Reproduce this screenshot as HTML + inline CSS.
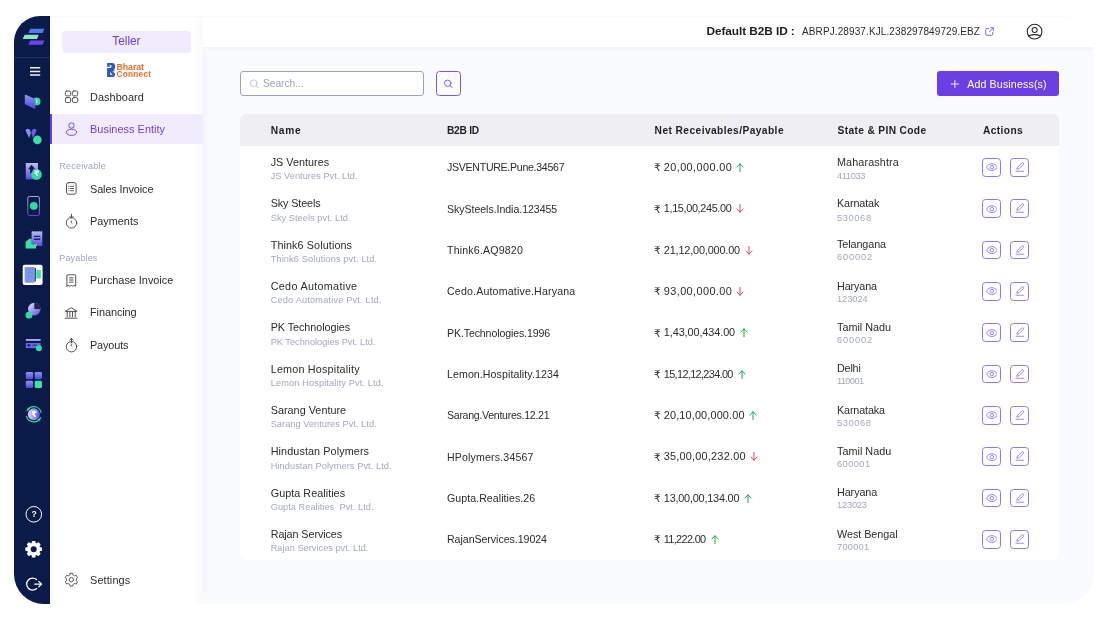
<!DOCTYPE html>
<html lang="en"><head><meta charset="utf-8"><title>Business Entity</title>
<style>
*{box-sizing:border-box;margin:0;padding:0}
html,body{width:1112px;height:620px;background:#fff;overflow:hidden}
body{font-family:"Liberation Sans", sans-serif;position:relative;-webkit-font-smoothing:antialiased}
.abs,.t,svg{position:absolute}
.t{white-space:pre;line-height:1;display:block}
.rail{left:14px;top:16px;width:36px;height:587.6px;background:#0a1a49;border-radius:26px 0 0 30px}
.raildiv{left:14px;top:57px;width:36px;height:1px;background:#22305f}
.side{left:50px;top:16px;width:153px;height:587.6px;background:linear-gradient(90deg,#fff 0,#fff 143px,#fafafb 153px)}
.top{left:203px;top:16px;width:891px;height:30.5px;background:#fff}
.main{left:203px;top:46.7px;width:891px;height:556.9px;background:#fafbfe;border-radius:0 0 30px 0}
.mainsh{left:203px;top:46.7px;width:891px;height:5px;background:linear-gradient(180deg,#f2f2f8,#fafbfe)}
.mainsl{left:203px;top:46.7px;width:7px;height:545px;background:linear-gradient(90deg,#f3f3f9,#fafbfe)}
.pill{left:62px;top:31px;width:129px;height:22px;background:#f0ecfd;border-radius:4px}
.topline{left:50px;top:16px;width:1018px;height:1px;background:#f9f9fa}
.active{left:50px;top:113.5px;width:153px;height:30.6px;background:#f0ecfd}
.activebar{left:50px;top:113.5px;width:2px;height:30.6px;background:#6b3fe4}
.search{left:240.2px;top:71.4px;width:183.6px;height:24.2px;border:1px solid #9da1be;border-radius:3px;background:#fff}
.sbtn{left:436px;top:71.2px;width:24.6px;height:24.6px;border:1px solid #7b54ea;border-radius:3.5px;background:#fafbfe}
.add{left:937.2px;top:71.4px;width:121.8px;height:24.4px;background:#6b3fe4;border-radius:3px}
.thead{left:240.2px;top:114.3px;width:818.8px;height:32px;background:#eeeef3;border-radius:6px 6px 0 0}
.tbody{left:240.2px;top:146.3px;width:818.8px;height:413.6px;background:#fff;border-radius:0 0 6px 6px}
.rs{font-family:"DejaVu Sans",sans-serif}
.ab{width:19px;height:18.8px;border:1px solid #9276ee;border-radius:3.5px;background:#fff}
</style></head>
<body>
<aside><div class="abs rail"></div><div class="abs raildiv"></div></aside>
<nav><div class="abs side"></div><div class="abs pill"></div><div class="abs active"></div><div class="abs activebar"></div>
<span class="t" style="left:112.3px;top:36.3px;font-size:11.9px;color:#6b3fe4;letter-spacing:-0.04px">Teller</span>
<span class="t" style="left:116.5px;top:62.5px;font-size:8.8px;color:#ee6a2c;font-weight:700;letter-spacing:-0.07px">Bharat</span>
<span class="t" style="left:116.5px;top:71.0px;font-size:8.2px;color:#ee6a2c;font-weight:700;letter-spacing:0.29px">Connect</span>
<span class="t" style="left:90.0px;top:91.7px;font-size:10.9px;color:#2b2b30;letter-spacing:0.06px">Dashboard</span>
<span class="t" style="left:90.0px;top:123.7px;font-size:10.9px;color:#6b3fe4;letter-spacing:0.04px">Business Entity</span>
<span class="t" style="left:59.3px;top:161.8px;font-size:9.0px;color:#9fa3c8;letter-spacing:0.21px">Receivable</span>
<span class="t" style="left:90.0px;top:183.7px;font-size:10.9px;color:#2b2b30;letter-spacing:-0.11px">Sales Invoice</span>
<span class="t" style="left:90.0px;top:215.7px;font-size:10.9px;color:#2b2b30;letter-spacing:-0.01px">Payments</span>
<span class="t" style="left:59.3px;top:253.6px;font-size:9.0px;color:#9fa3c8;letter-spacing:0.15px">Payables</span>
<span class="t" style="left:90.0px;top:275.4px;font-size:10.9px;color:#2b2b30;letter-spacing:-0.02px">Purchase Invoice</span>
<span class="t" style="left:90.0px;top:307.4px;font-size:10.9px;color:#2b2b30;letter-spacing:-0.07px">Financing</span>
<span class="t" style="left:90.0px;top:339.8px;font-size:10.9px;color:#2b2b30;letter-spacing:-0.14px">Payouts</span>
<span class="t" style="left:90.0px;top:574.5px;font-size:10.9px;color:#2b2b30;letter-spacing:0.12px">Settings</span>
</nav>
<header><div class="abs top"></div><div class="abs topline"></div>
<span class="t" style="left:706.5px;top:25.8px;font-size:11.8px;color:#1d1d22;font-weight:700;letter-spacing:-0.06px">Default B2B ID :</span>
<span class="t" style="left:802.0px;top:26.6px;font-size:10.0px;color:#2b2b30;letter-spacing:0.11px">ABRPJ.28937.KJL.238297849729.EBZ</span>
</header>
<main><div class="abs main"></div><div class="abs mainsl"></div><div class="abs mainsh"></div>
<section><div class="abs search"></div><div class="abs sbtn"></div><div class="abs add"></div>
<span class="t" style="left:263.1px;top:78.8px;font-size:10.2px;color:#9a9ebe;letter-spacing:-0.05px">Search...</span>
<span class="t" style="left:967.2px;top:79.0px;font-size:10.6px;color:#ffffff;letter-spacing:0.16px">Add Business(s)</span>
</section>
<section><div class="abs thead"></div><div class="abs tbody"></div>
<div><span class="t" style="left:270.7px;top:125.8px;font-size:10.2px;color:#1d1d22;font-weight:700;letter-spacing:0.75px">Name</span><span class="t" style="left:446.9px;top:125.8px;font-size:10.2px;color:#1d1d22;font-weight:700;letter-spacing:-0.24px">B2B ID</span><span class="t" style="left:654.6px;top:125.8px;font-size:10.2px;color:#1d1d22;font-weight:700;letter-spacing:0.43px">Net Receivables/Payable</span><span class="t" style="left:837.5px;top:125.8px;font-size:10.2px;color:#1d1d22;font-weight:700;letter-spacing:0.36px">State &amp; PIN Code</span><span class="t" style="left:983.0px;top:125.8px;font-size:10.2px;color:#1d1d22;font-weight:700;letter-spacing:0.39px">Actions</span></div>
<div><span class="t" style="left:270.7px;top:156.8px;font-size:10.8px;color:#2b2b30;letter-spacing:0.02px">JS Ventures</span><span class="t" style="left:270.7px;top:172.4px;font-size:9.2px;color:#a3a6c2;letter-spacing:0.05px">JS Ventures Pvt. Ltd.</span><span class="t" style="left:447.0px;top:162.2px;font-size:10.6px;color:#2b2b30;letter-spacing:-0.29px">JSVENTURE.Pune.34567</span><span class="t rs" style="left:653.9px;top:162.2px;font-size:10.4px;color:#2b2b30">₹</span><span class="t" style="left:663.8px;top:162.0px;font-size:10.9px;color:#2b2b30;letter-spacing:0.40px">20,00,000.00</span><span class="t" style="left:837.0px;top:156.8px;font-size:10.8px;color:#2b2b30;letter-spacing:0.12px">Maharashtra</span><span class="t" style="left:837.0px;top:172.1px;font-size:9.3px;color:#a3a6c2;letter-spacing:-0.39px">411033</span><svg style="left:736.2px;top:162.9px" width="8" height="9" viewBox="0 0 8 9"><path d="M4 8.6V0.8M0.9 4L4 0.8L7.1 4" fill="none" stroke="#14a240" stroke-width="0.95" stroke-linecap="round" stroke-linejoin="round"/></svg><div class="abs ab" style="left:982px;top:157.9px"></div><svg style="left:985.6px;top:163.2px" width="11.8" height="8.2" viewBox="0 0 24 16"><path d="M1 8C4 3 8 1 12 1s8 2 11 7c-3 5-7 7-11 7S4 13 1 8z" fill="none" stroke="#7f5cea" stroke-width="1.55"/><circle cx="12" cy="8" r="3.6" fill="none" stroke="#7f5cea" stroke-width="1.55"/></svg><div class="abs ab" style="left:1010px;top:157.9px"></div><svg style="left:1014.6px;top:162.1px" width="10" height="10" viewBox="0 0 20 20"><path d="M3.5 14.5L5 10.5L13.5 2a2 2 0 0 1 3 3L8 13.5z" fill="none" stroke="#7f5cea" stroke-width="1.5" stroke-linejoin="round"/><path d="M2 18.5H17" stroke="#7f5cea" stroke-width="1.5" stroke-linecap="round"/></svg></div>
<div><span class="t" style="left:270.7px;top:198.2px;font-size:10.8px;color:#2b2b30;letter-spacing:-0.11px">Sky Steels</span><span class="t" style="left:270.7px;top:213.7px;font-size:9.2px;color:#a3a6c2;letter-spacing:0.06px">Sky Steels pvt. Ltd.</span><span class="t" style="left:447.0px;top:203.5px;font-size:10.6px;color:#2b2b30;letter-spacing:-0.05px">SkySteels.India.123455</span><span class="t rs" style="left:653.9px;top:203.6px;font-size:10.4px;color:#2b2b30">₹</span><span class="t" style="left:663.8px;top:203.3px;font-size:10.9px;color:#2b2b30;letter-spacing:-0.36px">1,15,00,245.00</span><span class="t" style="left:837.0px;top:198.1px;font-size:10.8px;color:#2b2b30;letter-spacing:-0.12px">Karnatak</span><span class="t" style="left:837.0px;top:213.5px;font-size:9.3px;color:#a3a6c2;letter-spacing:0.61px">530068</span><svg style="left:736.2px;top:204.2px" width="8" height="9" viewBox="0 0 8 9"><path d="M4 0.4V8.2M0.9 5L4 8.2L7.1 5" fill="none" stroke="#e03c5e" stroke-width="0.95" stroke-linecap="round" stroke-linejoin="round"/></svg><div class="abs ab" style="left:982px;top:199.2px"></div><svg style="left:985.6px;top:204.5px" width="11.8" height="8.2" viewBox="0 0 24 16"><path d="M1 8C4 3 8 1 12 1s8 2 11 7c-3 5-7 7-11 7S4 13 1 8z" fill="none" stroke="#7f5cea" stroke-width="1.55"/><circle cx="12" cy="8" r="3.6" fill="none" stroke="#7f5cea" stroke-width="1.55"/></svg><div class="abs ab" style="left:1010px;top:199.2px"></div><svg style="left:1014.6px;top:203.4px" width="10" height="10" viewBox="0 0 20 20"><path d="M3.5 14.5L5 10.5L13.5 2a2 2 0 0 1 3 3L8 13.5z" fill="none" stroke="#7f5cea" stroke-width="1.5" stroke-linejoin="round"/><path d="M2 18.5H17" stroke="#7f5cea" stroke-width="1.5" stroke-linecap="round"/></svg></div>
<div><span class="t" style="left:270.7px;top:239.5px;font-size:10.8px;color:#2b2b30;letter-spacing:0.10px">Think6 Solutions</span><span class="t" style="left:270.7px;top:255.0px;font-size:9.2px;color:#a3a6c2;letter-spacing:0.13px">Think6 Solutions pvt. Ltd.</span><span class="t" style="left:447.0px;top:244.8px;font-size:10.6px;color:#2b2b30;letter-spacing:0.18px">Think6.AQ9820</span><span class="t rs" style="left:653.9px;top:244.9px;font-size:10.4px;color:#2b2b30">₹</span><span class="t" style="left:663.8px;top:244.7px;font-size:10.9px;color:#2b2b30;letter-spacing:-0.17px">21,12,00,000.00</span><span class="t" style="left:837.0px;top:239.4px;font-size:10.8px;color:#2b2b30;letter-spacing:-0.09px">Telangana</span><span class="t" style="left:837.0px;top:253.4px;font-size:9.3px;color:#a3a6c2;letter-spacing:0.81px">600002</span><svg style="left:744.6px;top:245.5px" width="8" height="9" viewBox="0 0 8 9"><path d="M4 0.4V8.2M0.9 5L4 8.2L7.1 5" fill="none" stroke="#e03c5e" stroke-width="0.95" stroke-linecap="round" stroke-linejoin="round"/></svg><div class="abs ab" style="left:982px;top:240.5px"></div><svg style="left:985.6px;top:245.8px" width="11.8" height="8.2" viewBox="0 0 24 16"><path d="M1 8C4 3 8 1 12 1s8 2 11 7c-3 5-7 7-11 7S4 13 1 8z" fill="none" stroke="#7f5cea" stroke-width="1.55"/><circle cx="12" cy="8" r="3.6" fill="none" stroke="#7f5cea" stroke-width="1.55"/></svg><div class="abs ab" style="left:1010px;top:240.5px"></div><svg style="left:1014.6px;top:244.7px" width="10" height="10" viewBox="0 0 20 20"><path d="M3.5 14.5L5 10.5L13.5 2a2 2 0 0 1 3 3L8 13.5z" fill="none" stroke="#7f5cea" stroke-width="1.5" stroke-linejoin="round"/><path d="M2 18.5H17" stroke="#7f5cea" stroke-width="1.5" stroke-linecap="round"/></svg></div>
<div><span class="t" style="left:270.7px;top:280.8px;font-size:10.8px;color:#2b2b30;letter-spacing:0.30px">Cedo Automative</span><span class="t" style="left:270.7px;top:296.4px;font-size:9.2px;color:#a3a6c2;letter-spacing:0.19px">Cedo Automative Pvt. Ltd.</span><span class="t" style="left:447.0px;top:286.2px;font-size:10.6px;color:#2b2b30;letter-spacing:0.18px">Cedo.Automative.Haryana</span><span class="t rs" style="left:653.9px;top:286.2px;font-size:10.4px;color:#2b2b30">₹</span><span class="t" style="left:663.8px;top:286.0px;font-size:10.9px;color:#2b2b30;letter-spacing:0.40px">93,00,000.00</span><span class="t" style="left:837.0px;top:280.8px;font-size:10.8px;color:#2b2b30;letter-spacing:-0.12px">Haryana</span><span class="t" style="left:837.0px;top:294.7px;font-size:9.3px;color:#a3a6c2;letter-spacing:-0.07px">123024</span><svg style="left:736.2px;top:286.9px" width="8" height="9" viewBox="0 0 8 9"><path d="M4 0.4V8.2M0.9 5L4 8.2L7.1 5" fill="none" stroke="#e03c5e" stroke-width="0.95" stroke-linecap="round" stroke-linejoin="round"/></svg><div class="abs ab" style="left:982px;top:281.9px"></div><svg style="left:985.6px;top:287.2px" width="11.8" height="8.2" viewBox="0 0 24 16"><path d="M1 8C4 3 8 1 12 1s8 2 11 7c-3 5-7 7-11 7S4 13 1 8z" fill="none" stroke="#7f5cea" stroke-width="1.55"/><circle cx="12" cy="8" r="3.6" fill="none" stroke="#7f5cea" stroke-width="1.55"/></svg><div class="abs ab" style="left:1010px;top:281.9px"></div><svg style="left:1014.6px;top:286.1px" width="10" height="10" viewBox="0 0 20 20"><path d="M3.5 14.5L5 10.5L13.5 2a2 2 0 0 1 3 3L8 13.5z" fill="none" stroke="#7f5cea" stroke-width="1.5" stroke-linejoin="round"/><path d="M2 18.5H17" stroke="#7f5cea" stroke-width="1.5" stroke-linecap="round"/></svg></div>
<div><span class="t" style="left:270.7px;top:322.2px;font-size:10.8px;color:#2b2b30;letter-spacing:-0.06px">PK Technologies</span><span class="t" style="left:270.7px;top:337.7px;font-size:9.2px;color:#a3a6c2;letter-spacing:0.01px">PK Technologies Pvt. Ltd.</span><span class="t" style="left:447.0px;top:327.5px;font-size:10.6px;color:#2b2b30;letter-spacing:-0.12px">PK.Technologies.1996</span><span class="t rs" style="left:653.9px;top:327.6px;font-size:10.4px;color:#2b2b30">₹</span><span class="t" style="left:663.8px;top:327.3px;font-size:10.9px;color:#2b2b30;letter-spacing:-0.10px">1,43,00,434.00</span><span class="t" style="left:837.0px;top:322.1px;font-size:10.8px;color:#2b2b30;letter-spacing:0.01px">Tamil Nadu</span><span class="t" style="left:837.0px;top:336.0px;font-size:9.3px;color:#a3a6c2;letter-spacing:0.81px">600002</span><svg style="left:739.6px;top:328.2px" width="8" height="9" viewBox="0 0 8 9"><path d="M4 8.6V0.8M0.9 4L4 0.8L7.1 4" fill="none" stroke="#14a240" stroke-width="0.95" stroke-linecap="round" stroke-linejoin="round"/></svg><div class="abs ab" style="left:982px;top:323.2px"></div><svg style="left:985.6px;top:328.5px" width="11.8" height="8.2" viewBox="0 0 24 16"><path d="M1 8C4 3 8 1 12 1s8 2 11 7c-3 5-7 7-11 7S4 13 1 8z" fill="none" stroke="#7f5cea" stroke-width="1.55"/><circle cx="12" cy="8" r="3.6" fill="none" stroke="#7f5cea" stroke-width="1.55"/></svg><div class="abs ab" style="left:1010px;top:323.2px"></div><svg style="left:1014.6px;top:327.4px" width="10" height="10" viewBox="0 0 20 20"><path d="M3.5 14.5L5 10.5L13.5 2a2 2 0 0 1 3 3L8 13.5z" fill="none" stroke="#7f5cea" stroke-width="1.5" stroke-linejoin="round"/><path d="M2 18.5H17" stroke="#7f5cea" stroke-width="1.5" stroke-linecap="round"/></svg></div>
<div><span class="t" style="left:270.7px;top:363.5px;font-size:10.8px;color:#2b2b30;letter-spacing:0.19px">Lemon Hospitality</span><span class="t" style="left:270.7px;top:379.0px;font-size:9.2px;color:#a3a6c2;letter-spacing:0.14px">Lemon Hospitality Pvt. Ltd.</span><span class="t" style="left:447.0px;top:368.8px;font-size:10.6px;color:#2b2b30;letter-spacing:0.09px">Lemon.Hospitality.1234</span><span class="t rs" style="left:653.9px;top:368.9px;font-size:10.4px;color:#2b2b30">₹</span><span class="t" style="left:663.8px;top:368.6px;font-size:10.9px;color:#2b2b30;letter-spacing:-0.65px">15,12,12,234.00</span><span class="t" style="left:837.0px;top:363.4px;font-size:10.8px;color:#2b2b30;letter-spacing:-0.20px">Delhi</span><span class="t" style="left:837.0px;top:377.4px;font-size:9.3px;color:#a3a6c2;letter-spacing:-0.65px">110001</span><svg style="left:737.9px;top:369.5px" width="8" height="9" viewBox="0 0 8 9"><path d="M4 8.6V0.8M0.9 4L4 0.8L7.1 4" fill="none" stroke="#14a240" stroke-width="0.95" stroke-linecap="round" stroke-linejoin="round"/></svg><div class="abs ab" style="left:982px;top:364.5px"></div><svg style="left:985.6px;top:369.8px" width="11.8" height="8.2" viewBox="0 0 24 16"><path d="M1 8C4 3 8 1 12 1s8 2 11 7c-3 5-7 7-11 7S4 13 1 8z" fill="none" stroke="#7f5cea" stroke-width="1.55"/><circle cx="12" cy="8" r="3.6" fill="none" stroke="#7f5cea" stroke-width="1.55"/></svg><div class="abs ab" style="left:1010px;top:364.5px"></div><svg style="left:1014.6px;top:368.7px" width="10" height="10" viewBox="0 0 20 20"><path d="M3.5 14.5L5 10.5L13.5 2a2 2 0 0 1 3 3L8 13.5z" fill="none" stroke="#7f5cea" stroke-width="1.5" stroke-linejoin="round"/><path d="M2 18.5H17" stroke="#7f5cea" stroke-width="1.5" stroke-linecap="round"/></svg></div>
<div><span class="t" style="left:270.7px;top:404.8px;font-size:10.8px;color:#2b2b30;letter-spacing:0.03px">Sarang Venture</span><span class="t" style="left:270.7px;top:420.4px;font-size:9.2px;color:#a3a6c2;letter-spacing:0.05px">Sarang Ventures Pvt. Ltd.</span><span class="t" style="left:447.0px;top:410.2px;font-size:10.6px;color:#2b2b30;letter-spacing:-0.29px">Sarang.Ventures.12.21</span><span class="t rs" style="left:653.9px;top:410.2px;font-size:10.4px;color:#2b2b30">₹</span><span class="t" style="left:663.8px;top:410.0px;font-size:10.9px;color:#2b2b30;letter-spacing:0.14px">20,10,00,000.00</span><span class="t" style="left:837.0px;top:404.8px;font-size:10.8px;color:#2b2b30;letter-spacing:-0.15px">Karnataka</span><span class="t" style="left:837.0px;top:418.7px;font-size:9.3px;color:#a3a6c2;letter-spacing:0.59px">530068</span><svg style="left:748.9px;top:410.8px" width="8" height="9" viewBox="0 0 8 9"><path d="M4 8.6V0.8M0.9 4L4 0.8L7.1 4" fill="none" stroke="#14a240" stroke-width="0.95" stroke-linecap="round" stroke-linejoin="round"/></svg><div class="abs ab" style="left:982px;top:405.8px"></div><svg style="left:985.6px;top:411.1px" width="11.8" height="8.2" viewBox="0 0 24 16"><path d="M1 8C4 3 8 1 12 1s8 2 11 7c-3 5-7 7-11 7S4 13 1 8z" fill="none" stroke="#7f5cea" stroke-width="1.55"/><circle cx="12" cy="8" r="3.6" fill="none" stroke="#7f5cea" stroke-width="1.55"/></svg><div class="abs ab" style="left:1010px;top:405.8px"></div><svg style="left:1014.6px;top:410.0px" width="10" height="10" viewBox="0 0 20 20"><path d="M3.5 14.5L5 10.5L13.5 2a2 2 0 0 1 3 3L8 13.5z" fill="none" stroke="#7f5cea" stroke-width="1.5" stroke-linejoin="round"/><path d="M2 18.5H17" stroke="#7f5cea" stroke-width="1.5" stroke-linecap="round"/></svg></div>
<div><span class="t" style="left:270.7px;top:446.1px;font-size:10.8px;color:#2b2b30;letter-spacing:0.10px">Hindustan Polymers</span><span class="t" style="left:270.7px;top:461.7px;font-size:9.2px;color:#a3a6c2;letter-spacing:0.09px">Hindustan Polymers Pvt. Ltd.</span><span class="t" style="left:447.0px;top:451.5px;font-size:10.6px;color:#2b2b30;letter-spacing:0.16px">HPolymers.34567</span><span class="t rs" style="left:653.9px;top:451.5px;font-size:10.4px;color:#2b2b30">₹</span><span class="t" style="left:663.8px;top:451.3px;font-size:10.9px;color:#2b2b30;letter-spacing:0.21px">35,00,00,232.00</span><span class="t" style="left:837.0px;top:446.1px;font-size:10.8px;color:#2b2b30;letter-spacing:0.02px">Tamil Nadu</span><span class="t" style="left:837.0px;top:460.0px;font-size:9.3px;color:#a3a6c2;letter-spacing:0.41px">600001</span><svg style="left:749.9px;top:452.2px" width="8" height="9" viewBox="0 0 8 9"><path d="M4 0.4V8.2M0.9 5L4 8.2L7.1 5" fill="none" stroke="#e03c5e" stroke-width="0.95" stroke-linecap="round" stroke-linejoin="round"/></svg><div class="abs ab" style="left:982px;top:447.2px"></div><svg style="left:985.6px;top:452.5px" width="11.8" height="8.2" viewBox="0 0 24 16"><path d="M1 8C4 3 8 1 12 1s8 2 11 7c-3 5-7 7-11 7S4 13 1 8z" fill="none" stroke="#7f5cea" stroke-width="1.55"/><circle cx="12" cy="8" r="3.6" fill="none" stroke="#7f5cea" stroke-width="1.55"/></svg><div class="abs ab" style="left:1010px;top:447.2px"></div><svg style="left:1014.6px;top:451.4px" width="10" height="10" viewBox="0 0 20 20"><path d="M3.5 14.5L5 10.5L13.5 2a2 2 0 0 1 3 3L8 13.5z" fill="none" stroke="#7f5cea" stroke-width="1.5" stroke-linejoin="round"/><path d="M2 18.5H17" stroke="#7f5cea" stroke-width="1.5" stroke-linecap="round"/></svg></div>
<div><span class="t" style="left:270.7px;top:487.5px;font-size:10.8px;color:#2b2b30;letter-spacing:0.04px">Gupta Realities</span><span class="t" style="left:270.7px;top:503.0px;font-size:9.2px;color:#a3a6c2;letter-spacing:0.05px">Gupta Realities  Pvt. Ltd.</span><span class="t" style="left:447.0px;top:492.8px;font-size:10.6px;color:#2b2b30;letter-spacing:0.06px">Gupta.Realities.26</span><span class="t rs" style="left:653.9px;top:492.9px;font-size:10.4px;color:#2b2b30">₹</span><span class="t" style="left:663.8px;top:492.6px;font-size:10.9px;color:#2b2b30;letter-spacing:-0.22px">13,00,00,134.00</span><span class="t" style="left:837.0px;top:487.4px;font-size:10.8px;color:#2b2b30;letter-spacing:-0.09px">Haryana</span><span class="t" style="left:837.0px;top:501.4px;font-size:9.3px;color:#a3a6c2;letter-spacing:-0.21px">123023</span><svg style="left:743.9px;top:493.5px" width="8" height="9" viewBox="0 0 8 9"><path d="M4 8.6V0.8M0.9 4L4 0.8L7.1 4" fill="none" stroke="#14a240" stroke-width="0.95" stroke-linecap="round" stroke-linejoin="round"/></svg><div class="abs ab" style="left:982px;top:488.5px"></div><svg style="left:985.6px;top:493.8px" width="11.8" height="8.2" viewBox="0 0 24 16"><path d="M1 8C4 3 8 1 12 1s8 2 11 7c-3 5-7 7-11 7S4 13 1 8z" fill="none" stroke="#7f5cea" stroke-width="1.55"/><circle cx="12" cy="8" r="3.6" fill="none" stroke="#7f5cea" stroke-width="1.55"/></svg><div class="abs ab" style="left:1010px;top:488.5px"></div><svg style="left:1014.6px;top:492.7px" width="10" height="10" viewBox="0 0 20 20"><path d="M3.5 14.5L5 10.5L13.5 2a2 2 0 0 1 3 3L8 13.5z" fill="none" stroke="#7f5cea" stroke-width="1.5" stroke-linejoin="round"/><path d="M2 18.5H17" stroke="#7f5cea" stroke-width="1.5" stroke-linecap="round"/></svg></div>
<div><span class="t" style="left:270.7px;top:528.8px;font-size:10.8px;color:#2b2b30;letter-spacing:-0.09px">Rajan Services</span><span class="t" style="left:270.7px;top:544.3px;font-size:9.2px;color:#a3a6c2;letter-spacing:0.03px">Rajan Services pvt. Ltd.</span><span class="t" style="left:447.0px;top:534.2px;font-size:10.6px;color:#2b2b30;letter-spacing:-0.04px">RajanServices.19024</span><span class="t rs" style="left:653.9px;top:534.2px;font-size:10.4px;color:#2b2b30">₹</span><span class="t" style="left:663.8px;top:534.0px;font-size:10.9px;color:#2b2b30;letter-spacing:-0.67px">11,222.00</span><span class="t" style="left:837.0px;top:528.8px;font-size:10.8px;color:#2b2b30;letter-spacing:-0.04px">West Bengal</span><span class="t" style="left:837.0px;top:542.7px;font-size:9.3px;color:#a3a6c2;letter-spacing:0.21px">700001</span><svg style="left:710.5px;top:534.8px" width="8" height="9" viewBox="0 0 8 9"><path d="M4 8.6V0.8M0.9 4L4 0.8L7.1 4" fill="none" stroke="#14a240" stroke-width="0.95" stroke-linecap="round" stroke-linejoin="round"/></svg><div class="abs ab" style="left:982px;top:529.8px"></div><svg style="left:985.6px;top:535.1px" width="11.8" height="8.2" viewBox="0 0 24 16"><path d="M1 8C4 3 8 1 12 1s8 2 11 7c-3 5-7 7-11 7S4 13 1 8z" fill="none" stroke="#7f5cea" stroke-width="1.55"/><circle cx="12" cy="8" r="3.6" fill="none" stroke="#7f5cea" stroke-width="1.55"/></svg><div class="abs ab" style="left:1010px;top:529.8px"></div><svg style="left:1014.6px;top:534.0px" width="10" height="10" viewBox="0 0 20 20"><path d="M3.5 14.5L5 10.5L13.5 2a2 2 0 0 1 3 3L8 13.5z" fill="none" stroke="#7f5cea" stroke-width="1.5" stroke-linejoin="round"/><path d="M2 18.5H17" stroke="#7f5cea" stroke-width="1.5" stroke-linecap="round"/></svg></div>
</section></main>
<svg class="abs" style="left:0;top:0" width="1112" height="620" viewBox="0 0 1112 620">
<defs>
<linearGradient id="gp" x1="0" y1="0" x2="0" y2="1"><stop offset="0" stop-color="#8a97f2"/><stop offset="1" stop-color="#5545da"/></linearGradient>
<linearGradient id="gl" x1="0" y1="0" x2="0" y2="1"><stop offset="0" stop-color="#bdbdf1"/><stop offset="1" stop-color="#5a4be0"/></linearGradient>
<linearGradient id="gd" x1="0" y1="0" x2="1" y2="1"><stop offset="0" stop-color="#e4e4fa"/><stop offset="1" stop-color="#5a4be0"/></linearGradient>
<linearGradient id="gph" x1="0" y1="0" x2="0" y2="1"><stop offset="0" stop-color="#b3abd6"/><stop offset="1" stop-color="#6b3fe4"/></linearGradient>
<linearGradient id="gh" x1="0" y1="0" x2="1" y2="0"><stop offset="0" stop-color="#dcdcf8"/><stop offset="1" stop-color="#5a4be0"/></linearGradient>
</defs>
<!-- brand mark -->
<path d="M30.2 28.8H44.4L42.6 32.9H28.4z" fill="#4f7be6"/>
<path d="M24.6 34.8H38.8L37 38.9H22.8z" fill="#8ee6c6"/>
<path d="M30.2 40.6H44.4L42.6 44.7H28.4z" fill="#6e42e6"/>
<!-- hamburger -->
<path d="M30 67.8H40.2M30 71.4H40.2M30 75H40.2" stroke="#f2f2f6" stroke-width="1.5"/>
<!-- wallet -->
<circle cx="36.6" cy="101.4" r="3.9" fill="#2fdca2"/><path d="M36.6 99.6V103.2" stroke="#a5f3dc" stroke-width="1.1"/>
<path d="M24.8 95.4Q24.8 94.4 25.8 94.8L34.6 98.8Q35.4 99.2 35.4 100.2V108.2Q35.4 109.2 34.4 108.8L25.6 104.6Q24.8 104.2 24.8 103.4z" fill="url(#gp)"/>
<!-- w mark -->
<path d="M25.6 130.6Q25.8 128.6 27.8 128.7Q29.6 128.8 30.2 130.4L31.8 135.4L30.8 137.9Q29.2 138.2 28.6 136.9z" fill="#8492f0"/>
<path d="M36.6 130.6Q36.4 128.6 34.4 128.7Q32.6 128.8 32 130.4L30.4 135.4L31.4 137.9Q33 138.2 33.6 136.9z" fill="#6a5de4"/>
<path d="M31.1 132.2L33.1 138H29.1z" fill="#18234c"/>
<circle cx="37.4" cy="139.9" r="4.3" fill="#2fdca2"/>
<circle cx="37.4" cy="139.9" r="2.4" fill="none" stroke="#8af0cf" stroke-width="0.7" stroke-dasharray="1 0.8"/>
<!-- upload rupee -->
<rect x="25.8" y="163" width="12.2" height="16.4" fill="url(#gl)"/>
<path d="M31.6 164.8L35.2 169.2H33V173.4H30.2V169.2H28z" fill="#0f1c44"/>
<circle cx="36.5" cy="174.4" r="5.3" fill="#2fdca2"/>
<!-- phone -->
<rect x="27.8" y="196.5" width="11.6" height="19" rx="1.6" fill="none" stroke="url(#gph)" stroke-width="1"/>
<circle cx="33.8" cy="205.8" r="3.9" fill="#2fdca2"/>
<!-- receipt + hand -->
<path d="M25.6 241.8L29.4 238.8H31.8V243.8L33.2 244.6L38.2 242.2Q39 243.4 38.2 244.6L36 246.4V248.6H25.6z" fill="#3ee0a2"/>
<path d="M31.6 231.8L32.6 231 33.7 231.8 34.8 231 35.9 231.8 37 231 38.1 231.8 39.2 231 40.3 231.8 41.4 231 42.3 231.8V246H37.4L36.2 243.4 31.6 244.4z" fill="url(#gl)"/>
<path d="M33.8 236.4H40.2M33.8 239.3H40.2" stroke="#1d2a5c" stroke-width="1.4"/>
<!-- active tile -->
<rect x="22.7" y="264.8" width="19.9" height="20.3" rx="2" fill="#ffffff"/>
<rect x="24.6" y="266.9" width="10.4" height="15.8" rx="1.4" fill="#8097e8"/>
<path d="M27 272.7H32M27 276.4H32" stroke="#6d83da" stroke-width="0.7"/>
<path d="M35.4 268V281.4" stroke="#14204a" stroke-width="0.9"/>
<rect x="36.3" y="270.1" width="4.6" height="8.4" fill="#3ee0a2"/>
<!-- pie -->
<circle cx="34.3" cy="309.1" r="6.3" fill="url(#gd)"/>
<path d="M34.3 309.1V302.8A6.3 6.3 0 0 1 40.6 309.1z" fill="#1b2745"/>
<circle cx="29" cy="315.2" r="3.4" fill="#2fdca2"/>
<!-- card -->
<rect x="25.8" y="339" width="14.8" height="1.9" fill="#a9a9ea"/>
<rect x="25.8" y="343" width="14.8" height="5.1" fill="#6a67e6"/>
<ellipse cx="28.9" cy="345.3" rx="1.7" ry="1.1" fill="#141f4a"/>
<rect x="32.6" y="344.6" width="4.4" height="1.5" fill="#3a3aa6"/>
<circle cx="38.9" cy="348.2" r="3" fill="#2fdca2"/>
<!-- grid -->
<rect x="25.8" y="371.9" width="7.3" height="7.3" rx="1.4" fill="url(#gp)"/>
<rect x="34.7" y="371.9" width="7.3" height="7.3" rx="1.4" fill="url(#gp)"/>
<rect x="25.8" y="380.8" width="7.3" height="7.3" rx="1.4" fill="url(#gp)"/>
<rect x="34.7" y="380.8" width="7.3" height="7.3" rx="1.4" fill="#3ee0a2"/>
<!-- rupee cycle -->
<circle cx="33.8" cy="414.3" r="7.6" fill="none" stroke="#2fdca2" stroke-width="1.2" stroke-dasharray="19 4.9" stroke-dashoffset="-3"/>
<path d="M27.4 407.8L30.4 408.2 28.2 410.6zM40.2 420.8L37.2 420.4 39.4 418z" fill="#2fdca2"/>
<circle cx="33.9" cy="414.3" r="6" fill="url(#gh)"/>
<!-- help -->
<circle cx="33.8" cy="514.3" r="7.8" fill="none" stroke="#ffffff" stroke-width="1"/>
<!-- gear -->
<g transform="translate(33.7 549.2)" fill="#ffffff">
<circle r="6.5"/>
<g id="tt"><rect x="-1.9" y="-8.3" width="3.8" height="16.6" rx="0.9"/></g>
<use href="#tt" transform="rotate(45)"/><use href="#tt" transform="rotate(90)"/><use href="#tt" transform="rotate(135)"/>
<circle r="3" fill="#0a1a49"/>
</g>
<!-- logout -->
<path d="M36.6 579.6A6 6 0 1 0 36.6 588.6" fill="none" stroke="#ffffff" stroke-width="1.3" stroke-linecap="round"/>
<path d="M34.6 584.1H41M38.8 581.4L41.6 584.1L38.8 586.8" fill="none" stroke="#ffffff" stroke-width="1.3" stroke-linecap="round" stroke-linejoin="round"/>

<!-- bharat connect B -->
<path d="M107.1 62.9H112.2Q115.1 62.9 115.1 65.8V67.3Q115.1 69.5 113.6 70.2H114.5V71.3H112.4L115.1 73.5V74.4Q115.1 76.9 112.4 76.9H107.1V68.1H110.9V66.8H107.1z" fill="#2d5cb8"/>
<path d="M109.2 64.6L111.9 66.1L110.9 67.6z" fill="#fff"/>
<path d="M110.2 72.1L112.8 75.2L110.1 74.4z" fill="#fff"/>
<!-- side icons -->
<g fill="none" stroke="#4a4a50" stroke-width="0.95" stroke-linejoin="round" stroke-linecap="round">
<rect x="65.4" y="91" width="5.3" height="4.9" rx="1.4"/><rect x="72.4" y="91" width="5.3" height="4.9" rx="1.4"/>
<rect x="65.4" y="97.6" width="5.3" height="4.9" rx="1.4"/><rect x="72.4" y="97.6" width="5.3" height="4.9" rx="1.4"/>
<!-- sales invoice -->
<rect x="66.5" y="182.6" width="9.6" height="11.6" rx="2"/>
<path d="M70.6 186.3H73.6M70.6 188.5H73.6M70.6 190.7H73.6"/>
<path d="M68.8 186.3H69M68.8 188.5H69M68.8 190.7H69"/>
<!-- payments -->
<circle cx="71.5" cy="222.9" r="5.2"/>
<path d="M71.5 214.2V218M69.9 216.4L71.5 218L73.1 216.4"/>
<!-- purchase invoice -->
<path d="M66.9 286.2V275.8Q66.9 274.8 67.9 274.8H74.7Q75.7 274.8 75.7 275.8V286.2L74.2 285.4 72.8 286.2 71.3 285.4 69.8 286.2 68.4 285.4z"/>
<path d="M69.6 277.8H73M69.6 280H73M69.6 282.2H73"/>
<!-- financing -->
<path d="M65.6 311.2L71.2 307.7L76.8 311.2zM65.4 318.2H77M67.2 312.2V316.8M69.9 312.2V316.8M72.5 312.2V316.8M75.2 312.2V316.8"/>
<!-- payouts -->
<circle cx="71.5" cy="346.7" r="5.2"/>
<path d="M71.5 338.4V342.6M69.9 340L71.5 338.4L73.1 340"/>
<!-- settings gear -->
<circle cx="71.4" cy="579.7" r="2.2"/>
<path d="M70.2 573.3h2.4l.5 1.7 1.5.9 1.7-.5 1.2 2.1-1.2 1.3v1.8l1.2 1.3-1.2 2.1-1.7-.5-1.5.9-.5 1.7h-2.4l-.5-1.7-1.5-.9-1.7.5-1.2-2.1 1.2-1.3v-1.8l-1.2-1.3 1.2-2.1 1.7.5 1.5-.9z"/>
</g>
<!-- person (active) -->
<g fill="none" stroke="#6b3fe4" stroke-width="0.95">
<circle cx="71.5" cy="125.5" r="2.7"/><ellipse cx="71.5" cy="132.3" rx="5.2" ry="3.1"/>
</g>
<!-- search icons -->
<g fill="none" stroke-linecap="round">
<circle cx="253.7" cy="83.3" r="3.4" stroke="#b4b7d2" stroke-width="0.8"/><path d="M256.3 85.9L258.6 87.8" stroke="#b4b7d2" stroke-width="0.8"/>
<circle cx="447.7" cy="83.3" r="3.2" stroke="#7b54ea" stroke-width="0.95"/><path d="M450.2 85.8L452.2 87.5" stroke="#7b54ea" stroke-width="0.95"/>
<!-- plus -->
<path d="M951.1 84H958.7M954.9 80.2V87.8" stroke="#ffffff" stroke-width="0.9"/>
<!-- external link -->
<path d="M988.6 28.4H987Q985.7 28.4 985.7 29.7V34Q985.7 35.3 987 35.3H991.4Q992.7 35.3 992.7 34V32.4" stroke="#8b6bf0" stroke-width="1"/>
<path d="M989.4 31.8L993.2 28M990.6 27.8H993.4V30.6" stroke="#8b6bf0" stroke-width="1"/>
<!-- user -->
<circle cx="1034.6" cy="31.6" r="7.35" stroke="#26262b" stroke-width="1.05"/>
<circle cx="1034.6" cy="29.9" r="2.5" stroke="#26262b" stroke-width="1.05"/>
<path d="M1028.6 36Q1034.6 33.2 1040.6 36" stroke="#26262b" stroke-width="1.05"/>
</g>
</svg>
<span class="t" style="left:31.6px;top:510.1px;font-size:8.6px;font-weight:700;color:#fff">?</span>
<span class="t rs" style="left:34.1px;top:170.4px;font-size:7.6px;font-weight:700;color:#fff">₹</span>
<span class="t rs" style="left:31.2px;top:410px;font-size:8.6px;font-weight:700;color:#fff">₹</span>
<span class="t rs" style="left:70.1px;top:220.6px;font-size:4.6px;color:#4a4a50">₹</span>
<span class="t rs" style="left:70.1px;top:344.4px;font-size:4.6px;color:#4a4a50">₹</span>
</body></html>
